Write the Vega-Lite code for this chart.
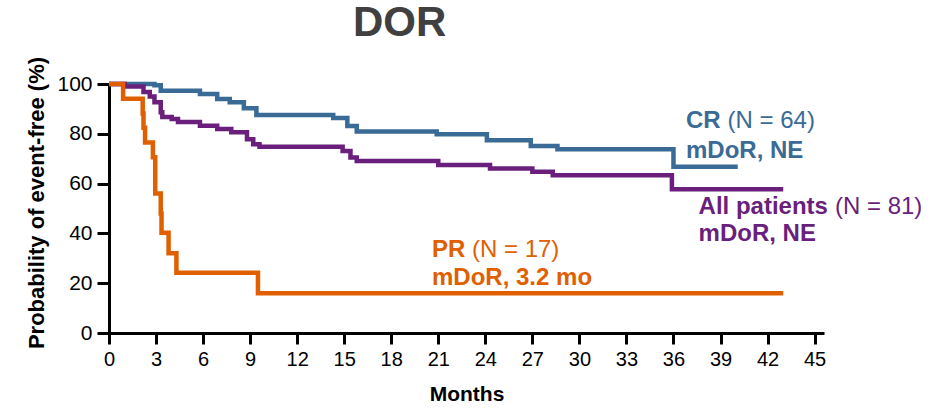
{
  "$schema": "https://vega.github.io/schema/vega-lite/v6.json",
  "autosize": "none",
  "width": 715,
  "height": 249,
  "padding": {"left": 109, "top": 84, "right": 123, "bottom": 76},
  "background": "white",
  "config": {"view": {"stroke": null}, "font": "Liberation Sans"},
  "title": {"text": "DOR", "fontSize": 42, "fontWeight": "bold", "color": "#404040", "anchor": "start", "frame": "group", "dx": 244, "offset": 11, "font": "Liberation Sans"},
  "datasets": {
    "curves": [
      {"group": "CR", "month": 0, "pct": 100},
      {"group": "CR", "month": 2.9, "pct": 99.5},
      {"group": "CR", "month": 3.3, "pct": 97.3},
      {"group": "CR", "month": 5.8, "pct": 96},
      {"group": "CR", "month": 6.9, "pct": 94},
      {"group": "CR", "month": 7.7, "pct": 92.7},
      {"group": "CR", "month": 8.6, "pct": 90.3},
      {"group": "CR", "month": 9.4, "pct": 87.6},
      {"group": "CR", "month": 14.3, "pct": 86.3},
      {"group": "CR", "month": 15.2, "pct": 83.1},
      {"group": "CR", "month": 15.8, "pct": 80.9},
      {"group": "CR", "month": 20.9, "pct": 79.8},
      {"group": "CR", "month": 24.1, "pct": 77.4},
      {"group": "CR", "month": 26.9, "pct": 75.1},
      {"group": "CR", "month": 28.6, "pct": 73.8},
      {"group": "CR", "month": 36.0, "pct": 66.8},
      {"group": "CR", "month": 40.1, "pct": 66.8},
      {"group": "All", "month": 0, "pct": 100},
      {"group": "All", "month": 1.0, "pct": 99},
      {"group": "All", "month": 2.2, "pct": 96.8},
      {"group": "All", "month": 2.6, "pct": 95},
      {"group": "All", "month": 2.9, "pct": 92.7},
      {"group": "All", "month": 3.3, "pct": 88.7},
      {"group": "All", "month": 3.4, "pct": 86.7},
      {"group": "All", "month": 4.0, "pct": 85.9},
      {"group": "All", "month": 4.4, "pct": 84.7},
      {"group": "All", "month": 5.8, "pct": 83.2},
      {"group": "All", "month": 6.9, "pct": 81.9},
      {"group": "All", "month": 7.8, "pct": 80.6},
      {"group": "All", "month": 8.8, "pct": 77.8},
      {"group": "All", "month": 9.2, "pct": 75.8},
      {"group": "All", "month": 9.6, "pct": 74.8},
      {"group": "All", "month": 14.9, "pct": 73.1},
      {"group": "All", "month": 15.4, "pct": 70.5},
      {"group": "All", "month": 15.8, "pct": 69.1},
      {"group": "All", "month": 21.0, "pct": 67.5},
      {"group": "All", "month": 24.3, "pct": 66.1},
      {"group": "All", "month": 27.0, "pct": 64.8},
      {"group": "All", "month": 28.3, "pct": 63.4},
      {"group": "All", "month": 35.9, "pct": 57.7},
      {"group": "All", "month": 43.0, "pct": 57.7},
      {"group": "PR", "month": 0, "pct": 100},
      {"group": "PR", "month": 0.9, "pct": 94.1},
      {"group": "PR", "month": 2.15, "pct": 88.2},
      {"group": "PR", "month": 2.2, "pct": 82.4},
      {"group": "PR", "month": 2.3, "pct": 76.5},
      {"group": "PR", "month": 2.8, "pct": 70.6},
      {"group": "PR", "month": 2.95, "pct": 56},
      {"group": "PR", "month": 3.3, "pct": 48},
      {"group": "PR", "month": 3.35, "pct": 40.3},
      {"group": "PR", "month": 3.8, "pct": 32},
      {"group": "PR", "month": 4.3, "pct": 24.2},
      {"group": "PR", "month": 9.5, "pct": 16},
      {"group": "PR", "month": 43.0, "pct": 16}
    ],
    "boldLabels": [
      {"group": "CR", "month": 36.8, "pct": 85.1, "text": "CR"},
      {"group": "CR", "month": 36.8, "pct": 73.0, "text": "mDoR, NE"},
      {"group": "All", "month": 37.6, "pct": 50.8, "text": "All patients"},
      {"group": "All", "month": 37.6, "pct": 39.9, "text": "mDoR, NE"},
      {"group": "PR", "month": 20.6, "pct": 33.5, "text": "PR"},
      {"group": "PR", "month": 20.6, "pct": 22.2, "text": "mDoR, 3.2 mo"}
    ],
    "plainLabels": [
      {"group": "CR", "month": 39.45, "pct": 85.1, "text": "(N = 64)"},
      {"group": "All", "month": 46.3, "pct": 50.8, "text": "(N = 81)"},
      {"group": "PR", "month": 23.15, "pct": 33.5, "text": "(N = 17)"}
    ]
  },
  "encoding": {
    "x": {"field": "month", "type": "quantitative",
      "scale": {"domain": [0, 45.6], "nice": false, "zero": false},
      "axis": {"title": "Months", "values": [0,3,6,9,12,15,18,21,24,27,30,33,36,39,42,45],
        "grid": false, "labelFlush": false, "domainColor": "#000", "domainWidth": 3, "tickColor": "#000", "tickWidth": 3, "tickSize": 11,
        "labelFontSize": 20, "labelColor": "#000", "labelPadding": 5, "labelFont": "Liberation Sans",
        "titleFontSize": 21, "titleFontWeight": "bold", "titleColor": "#000", "titlePadding": 14, "titleFont": "Liberation Sans"}},
    "y": {"field": "pct", "type": "quantitative",
      "scale": {"domain": [0, 100], "nice": false},
      "axis": {"title": "Probability of event-free (%)", "values": [0,20,40,60,80,100],
        "grid": false, "labelFlush": false, "domainColor": "#000", "domainWidth": 3, "tickColor": "#000", "tickWidth": 3, "tickSize": 12,
        "labelFontSize": 21, "labelColor": "#000", "labelPadding": 5, "labelFont": "Liberation Sans",
        "titleFontSize": 22, "titleFontWeight": "bold", "titleColor": "#000", "titlePadding": 8, "titleY": 118.5, "titleFont": "Liberation Sans"}},
    "color": {"field": "group", "type": "nominal",
      "scale": {"domain": ["CR", "All", "PR"], "range": ["#3a6a96", "#6a1f7d", "#e06000"]},
      "legend": null}
  },
  "layer": [
    {"data": {"name": "curves"},
     "mark": {"type": "line", "interpolate": "step-after", "strokeWidth": 4.5, "strokeCap": "butt"}},
    {"data": {"name": "boldLabels"},
     "mark": {"type": "text", "align": "left", "baseline": "middle", "fontSize": 24, "fontWeight": "bold", "font": "Liberation Sans", "clip": false},
     "encoding": {"text": {"field": "text"}}},
    {"data": {"name": "plainLabels"},
     "mark": {"type": "text", "align": "left", "baseline": "middle", "fontSize": 24, "font": "Liberation Sans", "clip": false},
     "encoding": {"text": {"field": "text"}}}
  ]
}
